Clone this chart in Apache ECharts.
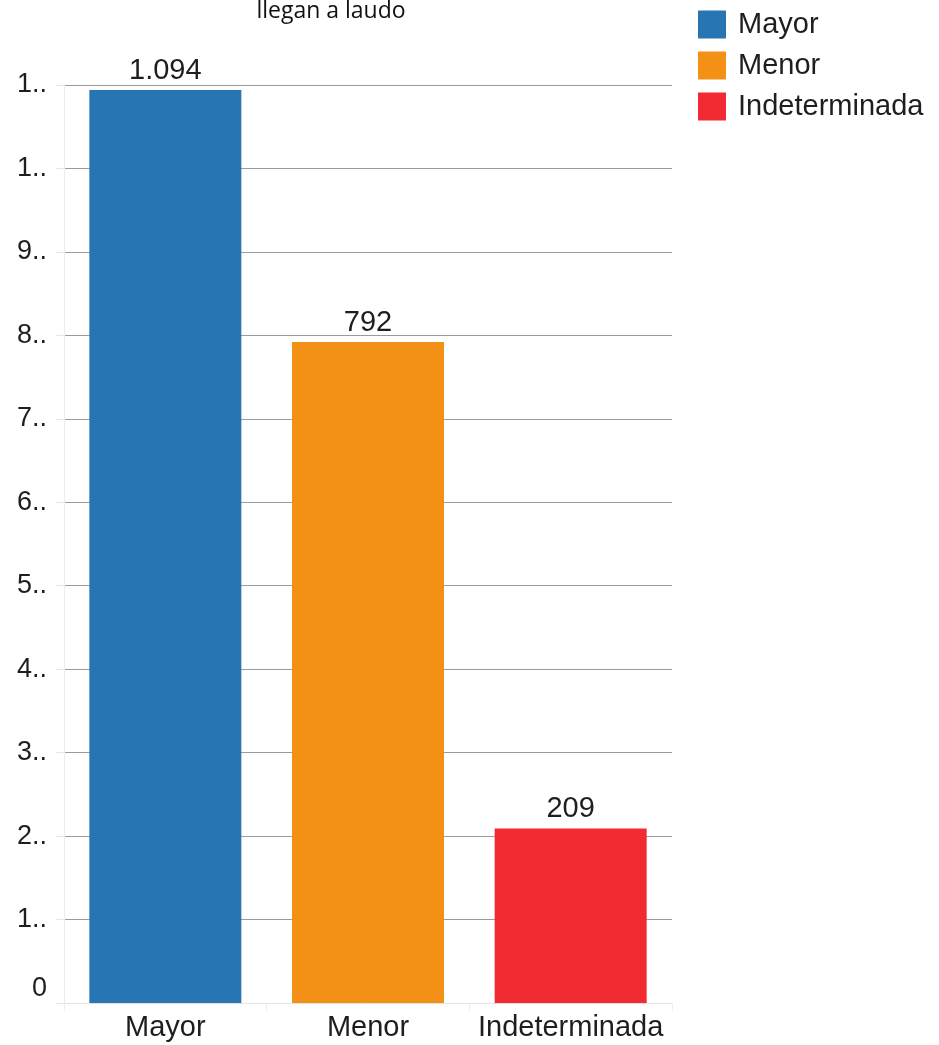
<!DOCTYPE html>
<html>
<head>
<meta charset="utf-8">
<script src="https://cdn.jsdelivr.net/npm/echarts@6/dist/echarts.min.js"></script>
<style>
  html, body { margin: 0; padding: 0; background: #fff; }
  #chart { width: 939px; height: 1045px; }
</style>
</head>
<body>
<div id="chart"></div>
<script>
// Laudo outcome counts by category
const categories = ['Mayor', 'Menor', 'Indeterminada'];
const mayorValues = [1094, '-', '-'];
const menorValues = ['-', 792, '-'];
const indeterminadaValues = ['-', '-', 209];
const yTickLabels = ['0', '1..', '2..', '3..', '4..', '5..', '6..', '7..', '8..', '9..', '1..', '1..'];
const seriesColors = ['#2775b3', '#f39016', '#f22a31'];

const fontFamily = '"Liberation Sans", Arial, sans-serif';

function fmtThousands(v) {
  return String(v).replace(/\B(?=(\d{3})+(?!\d))/g, '.');
}

function makeSeries(name, data, color) {
  return {
    name: name,
    type: 'bar',
    stack: 'total',
    data: data,
    barCategoryGap: '25%',
    itemStyle: { color: color },
    label: {
      show: true,
      position: 'top',
      distance: 5,
      fontFamily: fontFamily,
      fontSize: 29,
      color: '#1e1e1e',
      formatter: p => fmtThousands(p.value)
    }
  };
}

const chart = echarts.init(document.getElementById('chart'), null, { renderer: 'canvas' });
chart.setOption({
  animation: false,
  backgroundColor: '#fff',
  title: {
    text: 'llegan a laudo',
    left: 326,
    textAlign: 'center',
    top: -5,
    textStyle: { fontFamily: '"Open Sans", sans-serif', fontSize: 23, fontWeight: 'normal', color: '#111' }
  },
  legend: {
    orient: 'vertical',
    left: 698,
    top: 10,
    padding: 0,
    icon: 'rect',
    itemWidth: 28,
    itemHeight: 28,
    itemGap: 12,
    textStyle: { fontFamily: fontFamily, fontSize: 29, color: '#1e1e1e', padding: [0, 0, 0, 7] },
    data: ['Mayor', 'Menor', 'Indeterminada']
  },
  grid: { left: 64, right: 267, top: 85, bottom: 42, containLabel: false },
  xAxis: {
    type: 'category',
    data: categories,
    axisLine: { lineStyle: { color: '#e2e2e2', width: 1 } },
    axisTick: { show: true, length: 8, lineStyle: { color: '#ececec' } },
    axisLabel: { interval: 0, hideOverlap: false, fontFamily: fontFamily, fontSize: 29, color: '#1e1e1e', margin: 10 },
    z: 5
  },
  yAxis: {
    type: 'value',
    min: 0,
    max: 1100,
    interval: 100,
    axisLine: { show: true, lineStyle: { color: '#ececec' } },
    axisTick: { show: true, length: 8, lineStyle: { color: '#e6e6e6' } },
    axisLabel: {
      fontFamily: fontFamily,
      fontSize: 27,
      color: '#1e1e1e',
      margin: 17,
      // the zero label sits a little above the baseline
      formatter: v => v === 0 ? '{zero|0}' : yTickLabels[Math.round(v / 100)],
      rich: {
        zero: { fontFamily: fontFamily, fontSize: 27, color: '#1e1e1e', padding: [0, 0, 28, 0] }
      }
    },
    splitLine: { lineStyle: { color: '#9a9a9a', width: 1 } }
  },
  series: [
    makeSeries('Mayor', mayorValues, seriesColors[0]),
    makeSeries('Menor', menorValues, seriesColors[1]),
    makeSeries('Indeterminada', indeterminadaValues, seriesColors[2])
  ]
});
</script>
</body>
</html>
